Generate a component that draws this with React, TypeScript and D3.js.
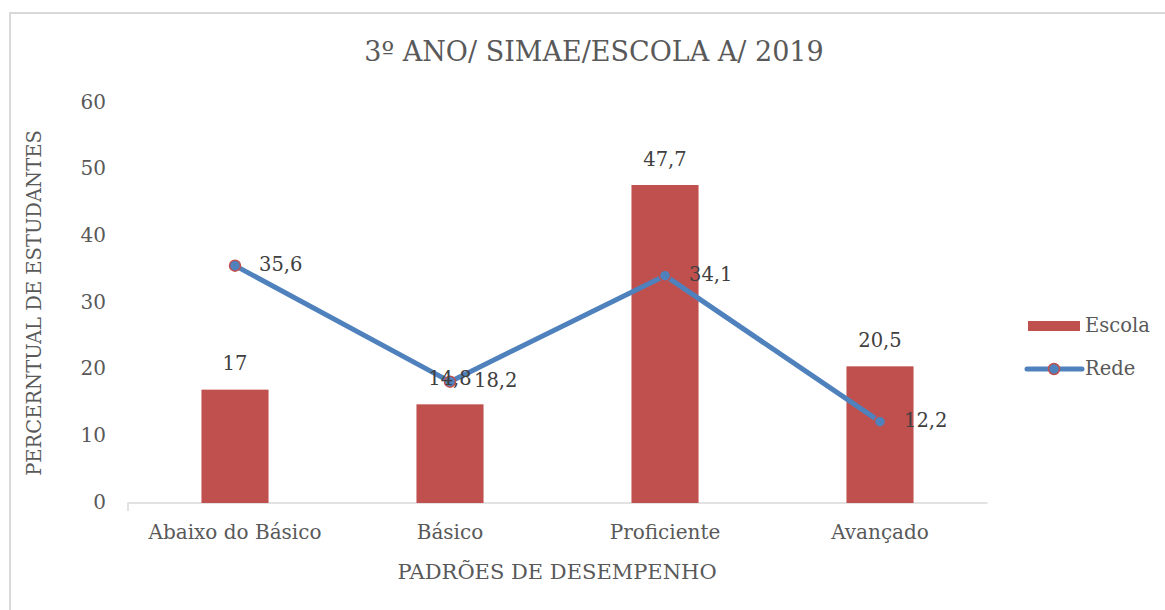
import React from "react";
import * as d3 from "d3";

const categories = ["Abaixo do Básico", "Básico", "Proficiente", "Avançado"];
const escola = [17, 14.8, 47.7, 20.5];
const rede = [35.6, 18.2, 34.1, 12.2];
const yTicks = [0, 10, 20, 30, 40, 50, 60];
const title = "3º ANO/ SIMAE/ESCOLA A/ 2019";
const xTitle = "PADRÕES DE DESEMPENHO";
const yTitle = "PERCERNTUAL DE ESTUDANTES";
const seriesNames = ["Escola", "Rede"];

const W = 1165;
const H = 610;
const RED = "#C0504D";
const BLUE = "#4F81BD";
const TXT = "#595959";
const FONT = "'DejaVu Serif', 'Liberation Serif', serif";
const fmt = (v: number) => String(v).replace(".", ",");

export default function App() {
  const x = d3.scaleBand<string>().domain(categories).range([127.5, 987.5]).padding(0);
  const y = d3.scaleLinear().domain([0, 60]).range([503, 103]);
  const bw = x.bandwidth() * 0.312;
  const cx = (c: string) => (x(c) as number) + x.bandwidth() / 2;
  const line = d3
    .line<number>()
    .x((_, i) => cx(categories[i]))
    .y((d) => y(d));

  return (
    <svg
      width={W}
      height={H}
      style={{ position: "absolute", left: 0, top: 0, background: "#fff" }}
      fontFamily={FONT}
    >
      <rect x={10} y={13} width={W + 20} height={H + 20} fill="#fff" stroke="#D9D9D9" strokeWidth={2} />
      <text x={594} y={53} textAnchor="middle" dominantBaseline="middle" fontSize={27} fill={TXT}>
        {title}
      </text>
      {yTicks.map((t) => (
        <text key={t} x={106} y={y(t)} textAnchor="end" dominantBaseline="middle" fontSize={20} fill={TXT}>
          {t}
        </text>
      ))}
      <line x1={127.5} x2={987.5} y1={y(0)} y2={y(0)} stroke="#D9D9D9" strokeWidth={1.5} />
      <line x1={128} x2={128} y1={y(0)} y2={y(0) + 8} stroke="#D9D9D9" strokeWidth={1.5} />
      {categories.map((c, i) => (
        <rect key={c} x={cx(c) - bw / 2} y={y(escola[i])} width={bw} height={y(0) - y(escola[i])} fill={RED} />
      ))}
      {categories.map((c) => (
        <text key={c} x={cx(c)} y={533} textAnchor="middle" dominantBaseline="middle" fontSize={20} fill={TXT}>
          {c}
        </text>
      ))}
      <path d={line(rede) || ""} fill="none" stroke={BLUE} strokeWidth={5} strokeLinejoin="round" />
      {categories.map((c, i) => (
        <circle key={c} cx={cx(c)} cy={y(rede[i])} r={5.5} fill={BLUE} stroke={RED} strokeWidth={1.5} />
      ))}
      {categories.map((c, i) => (
        <text key={c} x={cx(c)} y={y(escola[i]) - 25} textAnchor="middle" dominantBaseline="middle" fontSize={19.5} fill="#404040">
          {fmt(escola[i])}
        </text>
      ))}
      {categories.map((c, i) => (
        <text key={c} x={cx(c) + 24} y={y(rede[i])} textAnchor="start" dominantBaseline="middle" fontSize={19.5} fill="#404040">
          {fmt(rede[i])}
        </text>
      ))}
      <text x={557} y={573} textAnchor="middle" dominantBaseline="middle" fontSize={21} fill={TXT}>
        {xTitle}
      </text>
      <text
        transform={`translate(35,303) rotate(-90)`}
        textAnchor="middle"
        dominantBaseline="middle"
        fontSize={19.5}
        fill={TXT}
      >
        {yTitle}
      </text>
      <rect x={1028} y={321} width={52} height={10} fill={RED} />
      <text x={1085} y={326} dominantBaseline="middle" fontSize={19.5} fill={TXT}>
        {seriesNames[0]}
      </text>
      <line x1={1027} x2={1082} y1={369} y2={369} stroke={BLUE} strokeWidth={5} strokeLinecap="round" />
      <circle cx={1054} cy={369} r={5.5} fill={BLUE} stroke={RED} strokeWidth={1.5} />
      <text x={1085} y={369} dominantBaseline="middle" fontSize={19.5} fill={TXT}>
        {seriesNames[1]}
      </text>
    </svg>
  );
}
